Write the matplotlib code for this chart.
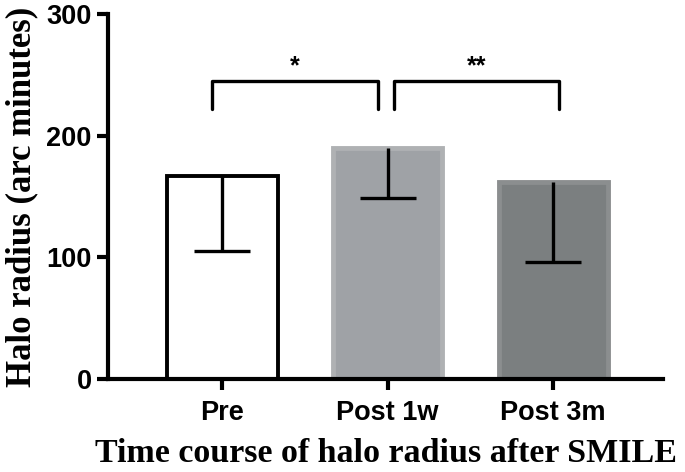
import matplotlib.pyplot as plt
import numpy as np

groups = ["Pre", "Post 1w", "Post 3m"]
means = [167, 190, 162]
sds = [62, 41, 66]
brackets = [(0, 1, "*"), (1, 2, "**")]

face_colors = ["white", "#9fa2a6", "#7b7f80"]
edge_colors = ["black", "#afb1b3", "#8b8e8f"]

fig = plt.figure(figsize=(6.85, 4.72), dpi=100)
ax = fig.add_axes([0.158, 0.197, 0.81, 0.773])

x = np.arange(len(groups))
m = np.array(means, dtype=float)
sd = np.array(sds, dtype=float)

bar_w = 0.69
for xi, yi, fc, ec in zip(x, m, face_colors, edge_colors):
    lw = 2.8 if ec == "black" else 3.5
    ax.bar(xi, yi, width=bar_w - (0.02 if ec == "black" else 0.03), color=fc,
           edgecolor=ec, linewidth=lw, joinstyle="miter", zorder=2)

# lower-only error bars (SD)
ax.vlines(x, m - sd, m, color="black", linewidth=2.4, zorder=3)
ax.hlines(m - sd, x - 0.17, x + 0.17, color="black", linewidth=2.4, zorder=3)

# significance brackets
top, leg = 245, 222
for a, b, lab in brackets:
    xa, xb = a - 0.06, b - 0.06
    if a > 0:
        xa = a + 0.035
        xb = b + 0.035
    ax.plot([xa, xa, xb, xb], [leg, top, top, leg], color="black",
            linewidth=2.4, solid_capstyle="round", clip_on=False, zorder=3)
    ax.text((xa + xb) / 2, top + 2, lab, ha="center", va="bottom",
            fontsize=18, fontweight="bold", family="Liberation Sans")

ax.set_ylim(0, 300)
ax.set_xlim(-0.69, 2.665)
ax.set_yticks([0, 100, 200, 300])
ax.set_xticks(x)
ax.set_xticklabels(groups)

for s in ["top", "right"]:
    ax.spines[s].set_visible(False)
for s in ["left", "bottom"]:
    ax.spines[s].set_linewidth(3.0)

ax.tick_params(axis="both", length=8, width=3.0, labelsize=19.5)
ax.tick_params(axis="y", pad=4)
ax.tick_params(axis="x", pad=7)
for lbl in ax.get_xticklabels() + ax.get_yticklabels():
    lbl.set_fontweight("bold")
    lbl.set_family("Liberation Sans")

ax.set_ylabel("Halo radius (arc minutes)", fontsize=25, fontweight="bold",
              family="Liberation Serif", labelpad=6)
ax.set_xlabel("Time course of halo radius after SMILE", fontsize=24.5,
              fontweight="bold", family="Liberation Serif", labelpad=8.5)

fig.savefig("out.png", dpi=100)
